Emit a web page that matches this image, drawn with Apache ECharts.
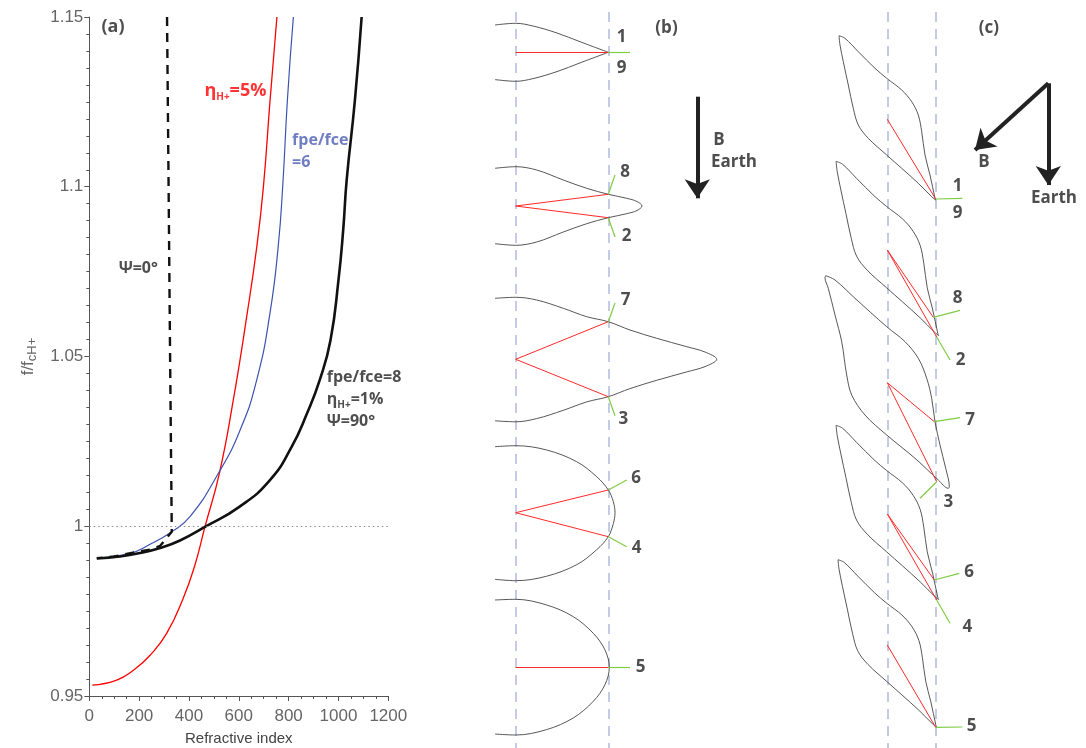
<!DOCTYPE html>
<html><head><meta charset="utf-8">
<script src="https://cdn.jsdelivr.net/npm/echarts@6/dist/echarts.min.js"></script>
<style>html,body{margin:0;padding:0;background:#fff}#c{width:1086px;height:748px}</style>
</head><body><div id="c"></div>
<script>
// ---------- Panel (a): dispersion curves [refractive index, f/fcH+] ----------
const xTickValues = [0, 200, 400, 600, 800, 1000, 1200];
const yTickValues = [0.95, 1, 1.05, 1.1, 1.15];
const curveFpe8Eta1Psi90 = [[30,0.9905],[123,0.9911],[203,0.9921],[284,0.9936],[364,0.9958],[464,0.9998],[602,1.0057],[725,1.0136],[812,1.0234],[874,1.0333],[925,1.0431],[968,1.0548],[1000,1.0725],[1019,1.0873],[1033,1.1020],[1066,1.1255],[1093,1.15]];
const curveEta5 = [[12,0.9532],[110,0.9547],[177,0.9576],[244,0.9620],[311,0.9685],[377,0.9788],[424,0.9886],[464,0.9998],[522,1.0156],[578,1.0372],[632,1.0619],[672,1.0822],[699,1.1002],[725,1.125],[753,1.15]];
const curveFpe6 = [[31,0.9907],[163,0.9920],[244,0.9947],[331,0.9984],[404,1.0028],[518,1.0156],[605,1.0283],[672,1.0431],[725,1.0627],[758,1.0823],[777,1.1011],[795,1.1255],[819,1.15]];
const curvePsi0 = [[312,1.15],[318,1.102],[324,1.0519],[331,0.9984],[284,0.9942],[250,0.9932],[175,0.9922],[100,0.9911],[30,0.9906]];

// ---------- Panel (b): refractive-index surfaces (diagram units), outlines relative to origin ----------
const bOrigins = [[515.7,52.3],[515.7,206],[515.7,359.3],[515.7,512.7],[515.7,667.3]];
const bOutlines = [
  [[[-20.7,-27.3],[0,-29],[17.3,-26.3],[41.3,-19.3],[64.3,-10.6],[92.6,0]],
   [[-20.7,27.3],[0,29],[17.3,26.3],[41.3,19.3],[64.3,10.6],[92.6,0]]],
  [[[-20.7,-37.7],[0,-39.3],[21,-36],[47.6,-26],[71,-17.7],[92.6,-11.7],[111,-7.7],[121.3,-4.5],[126.3,0],[121.3,4.5],[111,7.7],[92.6,11.7],[71,17.7],[47.6,26],[21,36],[0,39.3],[-20.7,37.7]]],
  [[[-20.7,-61],[0,-62],[21,-59.3],[47.6,-51],[71,-42.6],[92.6,-37.6],[114.3,-29.3],[141,-21],[171,-12.6],[189.3,-7.3],[201,0],[189.3,7.3],[171,12.6],[141,21],[114.3,29.3],[92.6,37.4],[71,42.6],[47.6,51],[21,59.3],[0,62.5],[-20.7,61.5]]],
  [[[-20.7,-66],[0,-67],[31,-62.7],[61,-51],[81,-36],[92.6,-22.7],[97.6,-11],[99.3,0],[97.6,11],[92.6,24],[81,37],[61,52],[31,63.5],[0,68],[-20.7,66.6]]],
  [[[-20.7,-67.3],[0,-68],[31,-62.3],[57.6,-50.6],[77.6,-34],[89.3,-17.3],[93.6,0],[89.3,17.3],[77.6,34],[57.6,50.6],[31,62.3],[0,67.7],[-20.7,66.7]]]
];
const bWaveVectors = [[[515.7,52.3],[608.3,52.3]],[[515.7,206],[608.3,194.3]],[[515.7,206],[608.3,217.7]],[[515.7,359.3],[608.3,321.7]],[[515.7,359.3],[608.3,396.7]],[[515.7,512.7],[608.3,490]],[[515.7,512.7],[608.3,536.7]],[[515.7,667.3],[608.3,667.3]]];
const bRayDirections = [[[608.3,52.3],[630,52.3]],[[608.3,194.3],[615,175]],[[608.3,217.7],[615,237]],[[608.3,321.7],[615,303]],[[608.3,396.7],[615,415.7]],[[608.3,490],[626.7,480]],[[608.3,536.7],[626.7,546.7]],[[608.3,667.3],[630,667.3]]];
const bPointLabels = [[621.7,37.3,'1'],[621.7,68.3,'9'],[625,172.3,'8'],[626.7,236,'2'],[625.7,300,'7'],[623.3,419.3,'3'],[636,478.3,'6'],[636.7,548.3,'4'],[640.7,666.7,'5']];

// ---------- Panel (c): oblique surfaces, outlines relative to origin ----------
const cOutlineSmall = [[-48.3,-83.6],[-42.3,-81],[-29,-67.6],[-12.3,-51],[-0.6,-41],[14.4,-29.3],[24.4,-17.6],[31,-4.3],[34.4,12.4],[37.7,35.7],[42.7,55.7],[47.7,79],[48.4,80.7],[44.4,77.4],[31,64],[14.4,49],[-0.6,35.7],[-19,19],[-29,5.7],[-34,-11],[-39,-34.3],[-44,-57.6],[-47.3,-74.3],[-48.3,-83.6]];
const cOutlineLarge = [[-61.6,-107],[-52.3,-102.7],[-32.3,-84.4],[-0.6,-56],[17.7,-41],[31,-24.4],[39.4,-4.4],[44.4,15.6],[47.7,39],[52.7,62.3],[58.4,85.6],[62,104],[61,105.6],[51,97.3],[27.7,75.6],[-0.6,52.3],[-22.3,32.3],[-35.6,12.3],[-40.6,-7.7],[-45.6,-41],[-52.3,-67.7],[-59,-94.4],[-62.3,-105],[-61.6,-107]];
const cOrigins = [[887.3,119.3],[887.3,250],[887.3,382.7],[887.3,514],[887.3,645]];
const cOutlineKind = ['small','small','large','small','small'];
const cOutlineScale = [1.0, 1.06, 1.0, 1.06, 1.02];
const cWaveVectors = [[[887.3,119.3],[935.7,199]],[[887.3,250],[933.3,317.3]],[[887.3,250],[936.7,337]],[[887.3,382.7],[934.3,421.7]],[[887.3,382.7],[936.7,481.7]],[[887.3,514],[934.3,580]],[[887.3,514],[936.7,600]],[[887.3,645],[935.7,727.3]]];
const cRayDirections = [[[935.7,199],[962.3,198.3]],[[933.3,317.3],[960,310.3]],[[936.7,337],[950,360]],[[934.3,421.7],[960,417.7]],[[936.7,481.7],[920,498.3]],[[934.3,580],[959.3,573.3]],[[936.7,600],[950,623.3]],[[935.7,727.3],[962.3,727]]];
const cPointLabels = [[957.7,185.7,'1'],[957.7,213.3,'9'],[957.7,298.3,'8'],[960.7,360,'2'],[970,420,'7'],[948.3,501.7,'3'],[969,571.7,'6'],[967.3,626.7,'4'],[971.7,725.7,'5']];

// reference lines (x positions) and arrows
const referenceLinesX = [515.7, 608.3, 887.3, 935.7];
const referenceLineSpan = [12, 748];
const fieldArrows = [[[697.3,96.7],[697.3,198.3]],[[1048.3,83.3],[975,150]],[[1048.3,83.3],[1048.3,185]]];
const diagramTexts = [[666.5,28.3,'(b)'],[988.8,28.3,'(c)'],[719,140,'B'],[734,161.7,'Earth'],[984,162.5,'B'],[1054,198.5,'Earth']];

// ---------- build ----------
const boldFont = 'Open Sans';
const chart = echarts.init(document.getElementById('c'));
const D = {xAxisIndex:1, yAxisIndex:1};
const series = [];

// Panel (a)
const curveOpts = {smooth:0.5, symbol:'none', showSymbol:false};
series.push(Object.assign({type:'line', data:curveEta5, lineStyle:{color:'#ff0000', width:1.3}, z:3,
  markLine:{silent:true, symbol:'none', label:{show:false}, lineStyle:{color:'#888', type:[1.5,3], width:1}, data:[{yAxis:1}]}}, curveOpts));
series.push(Object.assign({type:'line', data:curveFpe6, lineStyle:{color:'#3d52b0', width:1.2}, z:3}, curveOpts));
series.push(Object.assign({type:'line', data:curveFpe8Eta1Psi90, lineStyle:{color:'#111', width:2.6}, z:4}, curveOpts));
series.push({type:'line', data:curvePsi0, smooth:false, symbol:'none', lineStyle:{color:'#111', width:2.4, type:[9,7]}, z:4});

const richA = (c)=>({
  m:{fontSize:16, fontWeight:'bold', fontFamily:boldFont, color:c, lineHeight:22},
  e:{fontSize:18, fontWeight:'bold', fontFamily:boldFont, color:c, lineHeight:22},
  s:{fontSize:10, fontWeight:'bold', fontFamily:boldFont, color:c, lineHeight:10, verticalAlign:'bottom'}
});
const annotationsA = [
  {value:[51,1.1468], text:'{e|(a)}', color:'#222'},
  {value:[464,1.128], text:'{e|η}{s|H+}{e|=5%}', color:'#ff0000'},
  {value:[816,1.1104], text:'{m|fpe/fce}\n{m|=6}', color:'#4a5cb5'},
  {value:[120,1.0757], text:'{m|Ψ=0°}', color:'#222'},
  {value:[955,1.0373], text:'{m|fpe/fce=8}\n{m|η}{s|H+}{m|=1%}\n{m|Ψ=90°}', color:'#222'}
];
series.push({type:'scatter', symbol:'circle', symbolSize:1, silent:true, z:6, itemStyle:{color:'transparent'},
  data: annotationsA.map(a=>({value:a.value, label:{show:true, formatter:a.text, position:[0,0], align:'left', verticalAlign:'middle', rich:richA(a.color)}}))});

// Panel (b) and (c) diagram
series.push(Object.assign({type:'lines', coordinateSystem:'cartesian2d', silent:true, z:1,
  lineStyle:{color:'#b3bbdc', width:1.5, type:[10,7], opacity:1},
  data: referenceLinesX.map(x=>({coords:[[x,referenceLineSpan[0]],[x,referenceLineSpan[1]]]}))}, D));

bOrigins.forEach((o,i)=>{
  bOutlines[i].forEach(seg=>{
    series.push(Object.assign({type:'line', smooth:0.35, symbol:'none', silent:true, z:2,
      lineStyle:{color:'#444', width:0.9}, data: seg.map(p=>[o[0]+p[0], o[1]+p[1]])}, D));
  });
});
cOrigins.forEach((o,i)=>{
  const tpl = cOutlineKind[i]==='large' ? cOutlineLarge : cOutlineSmall;
  const s = cOutlineScale[i];
  series.push(Object.assign({type:'line', smooth:0.35, symbol:'none', silent:true, z:2,
    lineStyle:{color:'#444', width:0.9}, data: tpl.map(p=>[o[0]+p[0]*s, o[1]+p[1]*s])}, D));
});
series.push(Object.assign({type:'lines', coordinateSystem:'cartesian2d', silent:true, z:3,
  lineStyle:{color:'#ff2a2a', width:1, opacity:1},
  data: bWaveVectors.concat(cWaveVectors).map(c=>({coords:c}))}, D));
series.push(Object.assign({type:'lines', coordinateSystem:'cartesian2d', silent:true, z:3,
  lineStyle:{color:'#7fcc45', width:1.2, opacity:1},
  data: bRayDirections.concat(cRayDirections).map(c=>({coords:c}))}, D));
series.push(Object.assign({type:'lines', coordinateSystem:'cartesian2d', silent:true, z:4,
  symbol:['none','arrow'], symbolSize:19,
  lineStyle:{color:'#222', width:4, opacity:1},
  data: fieldArrows.map(c=>({coords:c}))}, D));
series.push(Object.assign({type:'scatter', symbol:'circle', symbolSize:1, silent:true, z:6, itemStyle:{color:'transparent'},
  label:{show:true, position:'inside', formatter:p=>p.data[2], fontSize:17, fontWeight:'bold', fontFamily:boldFont, color:'#222'},
  data: bPointLabels.concat(cPointLabels)}, D));
series.push(Object.assign({type:'scatter', symbol:'circle', symbolSize:1, silent:true, z:6, itemStyle:{color:'transparent'},
  label:{show:true, position:'inside', formatter:p=>p.data[2], fontSize:17, fontWeight:'bold', fontFamily:boldFont, color:'#222'},
  data: diagramTexts}, D));

chart.setOption({
  animation:false,
  backgroundColor:'#fff',
  grid:[
    {left:89.3, top:17, width:299, height:679, containLabel:false, outerBoundsMode:'none'},
    {left:0, top:0, width:1086, height:748, containLabel:false, outerBoundsMode:'none'}
  ],
  xAxis:[
    {type:'value', gridIndex:0, min:xTickValues[0], max:xTickValues[xTickValues.length-1], interval:xTickValues[1]-xTickValues[0],
     name:'Refractive index', nameLocation:'middle', nameGap:35,
     nameTextStyle:{color:'#444', fontSize:15, fontFamily:'Liberation Sans'},
     axisLine:{show:true, lineStyle:{color:'#555', width:1}},
     axisTick:{show:true, inside:false, length:5, lineStyle:{color:'#555'}},
     minorTick:{show:true, splitNumber:4, length:3, lineStyle:{color:'#555'}},
     axisLabel:{color:'#666', fontSize:17, fontFamily:'Liberation Sans', margin:12, formatter:v=>String(v)},
     splitLine:{show:false}, minorSplitLine:{show:false}},
    {type:'value', gridIndex:1, min:0, max:1086, show:false}
  ],
  yAxis:[
    {type:'value', gridIndex:0, min:yTickValues[0], max:yTickValues[yTickValues.length-1], interval:yTickValues[1]-yTickValues[0],
     name:'{m|f/f}{s|cH+}', nameLocation:'middle', nameGap:50, nameRotate:90,
     nameTextStyle:{rich:{m:{fontSize:17, color:'#666', fontFamily:'Liberation Sans', lineHeight:22},
                          s:{fontSize:13, color:'#666', fontFamily:'Liberation Sans', lineHeight:13, verticalAlign:'bottom'}}},
     axisLine:{show:true, lineStyle:{color:'#555', width:1}},
     axisTick:{show:true, inside:false, length:5, lineStyle:{color:'#555'}},
     minorTick:{show:true, splitNumber:10, length:3, lineStyle:{color:'#555'}},
     axisLabel:{color:'#666', fontSize:17, fontFamily:'Liberation Sans', margin:6, formatter:v=>String(+v.toFixed(2))},
     splitLine:{show:false}, minorSplitLine:{show:false}},
    {type:'value', gridIndex:1, min:0, max:748, inverse:true, show:false}
  ],
  series: series
});
</script></body></html>
